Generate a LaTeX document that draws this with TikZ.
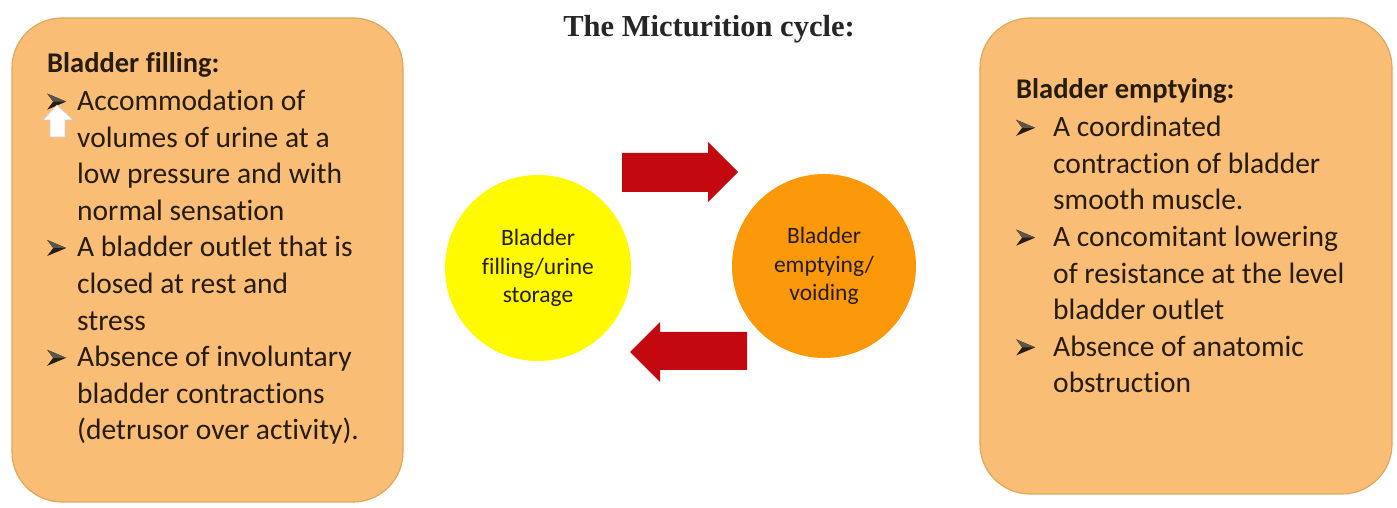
\documentclass[tikz,border=0pt]{standalone}
\usepackage{fontspec}
\setmainfont[Ligatures=NoCommon]{Carlito}
\newfontfamily\titlefont{Liberation Serif}
\usepackage{tikz}
\usetikzlibrary{positioning}

\definecolor{panelfill}{RGB}{250,189,117}
\definecolor{paneledge}{RGB}{222,168,92}
\definecolor{fillyellow}{RGB}{255,250,0}
\definecolor{fillorange}{RGB}{252,153,10}
\definecolor{arrowred}{RGB}{196,8,16}
\definecolor{ink}{RGB}{38,28,16}

% arrowhead bullet
\newcommand{\bulletmark}{\tikz[baseline=-9pt, x=1pt, y=1pt]{%
    \fill[ink] (0,8) -- (19,0) -- (0,-8) -- (6,0) -- cycle;
    \fill[ink!75] (0,8) -- (19,0) -- (6,0) -- cycle;}}
\newcommand{\bitem}[2][30pt]{\makebox[#1][l]{\bulletmark}#2}
\newcommand{\bcont}[2][30pt]{\hspace*{#1}#2}

\tikzset{
    panel/.style={rounded corners=50pt, fill=panelfill, draw=paneledge, line width=1.2pt},
    listtext/.style={anchor=base west, inner sep=0pt, align=left, text=ink,
        font=\fontsize{29.5}{36.6}\selectfont},
    stage/.style={circle, inner sep=0pt, align=center, text=ink,
        font=\fontsize{23.5}{28.5}\selectfont},
    blockarrow/.style={fill=arrowred}
}

\begin{document}
\begin{tikzpicture}[x=1pt, y=1pt]
    \useasboundingbox[fill=white] (0,0) rectangle (1397,508);

    % title
    \node[anchor=base, text=black!85, font=\titlefont\bfseries\fontsize{30.5}{32}\selectfont]
        (title) at (709,471) {The Micturition cycle:};

    % side panels
    \draw[panel] (12,6) rectangle (403,490);
    \draw[panel] (980,14) rectangle (1392,490);

    % anchored at the baseline of the last line
    \node[listtext] (filltext) at (47,68) {%
        {\bfseries\fontsize{28.5}{36}\selectfont Bladder filling:}\\[1.5pt]
        \bitem{Accommodation of}\\
        \bcont{volumes of urine at a}\\
        \bcont{low pressure and with}\\
        \bcont{normal sensation}\\
        \bitem{A bladder outlet that is}\\
        \bcont{closed at rest and}\\
        \bcont{stress}\\
        \bitem{Absence of involuntary}\\
        \bcont{bladder contractions}\\
        \bcont{(detrusor over activity).}};

    \node[listtext] (emptytext) at (1016,115) {%
        {\bfseries\fontsize{28.5}{36}\selectfont Bladder emptying:}\\[2pt]
        \bitem[37pt]{A coordinated}\\
        \bcont[37pt]{contraction of bladder}\\
        \bcont[37pt]{smooth muscle.}\\
        \bitem[37pt]{A concomitant lowering}\\
        \bcont[37pt]{of resistance at the level}\\
        \bcont[37pt]{bladder outlet}\\
        \bitem[37pt]{Absence of anatomic}\\
        \bcont[37pt]{obstruction}};

    % small white up-arrow over the first bullet
    \filldraw[fill=white, draw=black!20, line width=0.6pt]
        (57,403) -- (73,388) -- (65,388) -- (65,371) -- (50,371) -- (50,388) -- (43,388) -- cycle;

    % the two stages
    \node[stage, fill=fillyellow, minimum size=186pt] (storage) at (538,240)
        {Bladder\\filling/urine\\storage};
    \node[stage, fill=fillorange, minimum size=184pt] (voiding) at (824,242)
        {Bladder\\emptying/\\voiding};

    % block arrows between the stages
    \fill[blockarrow] (622,355) -- (708,355) -- (708,366) -- (738,336)
        -- (708,306) -- (708,316) -- (622,316) -- cycle;
    \fill[blockarrow] (747,176) -- (660,176) -- (660,186) -- (630,156)
        -- (660,126) -- (660,138) -- (747,138) -- cycle;
\end{tikzpicture}
\end{document}
